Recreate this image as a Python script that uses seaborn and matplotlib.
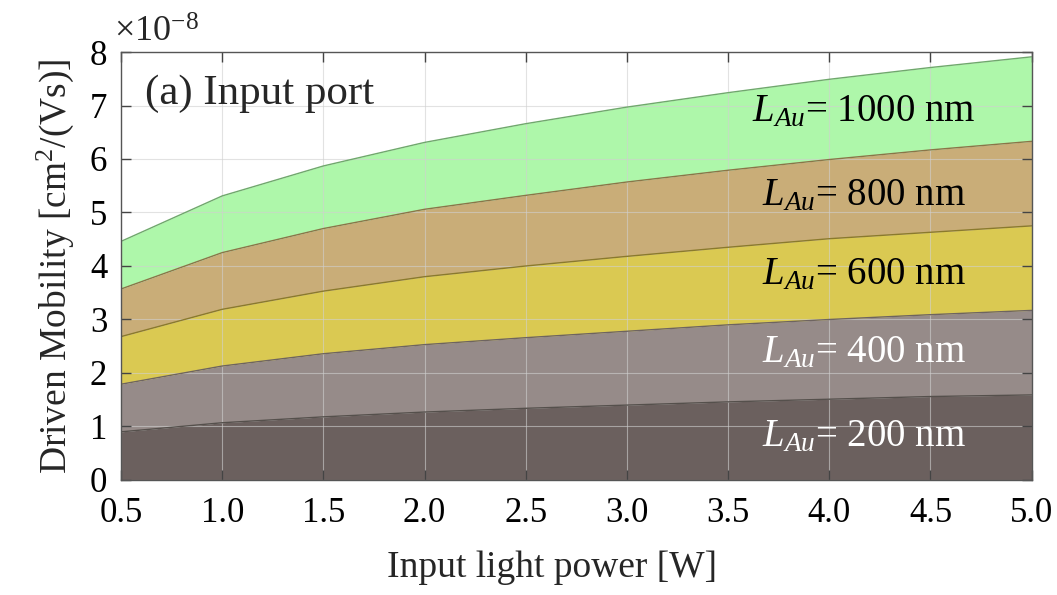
import numpy as np
import pandas as pd
import matplotlib
matplotlib.use("Agg")
import matplotlib.pyplot as plt
import seaborn as sns

# ---- data (values in units of 1e-8 cm^2/(Vs)) ----
power = [0.5, 1.0, 1.5, 2.0, 2.5, 3.0, 3.5, 4.0, 4.5, 5.0]
mob_200 = [0.90, 1.07, 1.18, 1.27, 1.34, 1.40, 1.46, 1.51, 1.56, 1.59]
mob_400 = [1.79, 2.13, 2.36, 2.53, 2.66, 2.78, 2.90, 3.00, 3.09, 3.17]
mob_600 = [2.68, 3.19, 3.53, 3.80, 4.00, 4.18, 4.35, 4.51, 4.63, 4.75]
mob_800 = [3.57, 4.25, 4.70, 5.06, 5.32, 5.57, 5.79, 5.99, 6.17, 6.33]
mob_1000 = [4.46, 5.31, 5.87, 6.31, 6.66, 6.97, 7.24, 7.49, 7.71, 7.91]
lengths = ["200", "400", "600", "800", "1000"]
series = [mob_200, mob_400, mob_600, mob_800, mob_1000]

fills = ["#6b605e", "#968b89", "#dac952", "#c9ad78", "#aef7aa"]
edges = ["#55504c", "#6e6460", "#8a7a2c", "#8a7548", "#6fa86c"]
label_colors = ["white", "white", "black", "black", "black"]
label_y = [0.80, 2.38, 3.83, 5.31, 6.88]

sns.set_theme(style="ticks")
plt.rcParams["font.family"] = ["Liberation Serif", "DejaVu Serif"]
plt.rcParams["mathtext.fontset"] = "custom"
plt.rcParams["mathtext.rm"] = "Liberation Serif"
plt.rcParams["mathtext.it"] = "Liberation Serif:italic"
plt.rcParams["mathtext.bf"] = "Liberation Serif:bold"

fig = plt.figure(figsize=(10.57, 5.95), dpi=100)
ax = fig.add_axes([0.1145, 0.1933, 0.8615, 0.7193])

df = pd.DataFrame({"power": power})
lower = [0.0] * len(power)
for name, vals, fc, ec in zip(lengths, series, fills, edges):
    ax.fill_between(power, lower, vals, color=fc, linewidth=0, zorder=2)
    df[name] = vals
    sns.lineplot(data=df, x="power", y=name, ax=ax, color=ec, linewidth=1.0,
                 zorder=3, legend=False)
    lower = vals

for name, y, c in zip(lengths, label_y, label_colors):
    ax.text(4.17, y, r"$L_{Au}$= " + name + " nm", color=c, fontsize=28,
            ha="center", va="center", zorder=5)

ax.text(0.62, 7.22, "(a) Input port", fontsize=31, ha="left", va="center", zorder=5)

ax.set_xlim(0.5, 5.0)
ax.set_ylim(0, 8)
ax.set_xticks(np.arange(0.5, 5.01, 0.5))
ax.set_xticklabels([f"{v:.1f}" for v in np.arange(0.5, 5.01, 0.5)])
ax.set_yticks(range(0, 9))
ax.grid(True, color="#d0d0d0", linewidth=0.8, zorder=4, alpha=0.6)
ax.set_axisbelow(False)
ax.tick_params(direction="in", length=7, width=1, top=True, right=True,
               labelsize=25, colors="#444444", labelcolor="black")
ax.tick_params(axis="x", pad=12)
ax.tick_params(axis="y", pad=10)
for s in ax.spines.values():
    s.set_color("#555555")
    s.set_linewidth(1.0)
    s.set_zorder(6)

ax.set_xlabel("Input light power [W]", fontsize=27)
ax.xaxis.set_label_coords(0.473, -0.165)
ax.set_ylabel(r"Driven Mobility [cm$^2$/(Vs)]", fontsize=27, labelpad=10)
ax.text(-0.008, 1.005, r"$\times$10$^{-8}$", transform=ax.transAxes, fontsize=26,
        ha="left", va="bottom")

fig.savefig("out.png", dpi=100)
